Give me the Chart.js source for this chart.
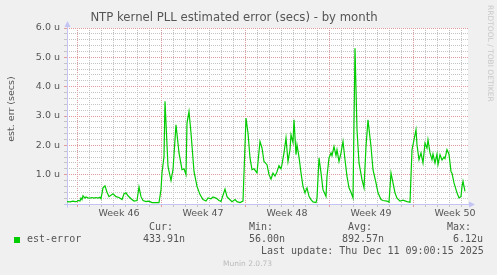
<!DOCTYPE html>
<html>
<head>
<meta charset="utf-8">
<script src="https://cdn.jsdelivr.net/npm/chart.js@4"></script>
<style>
html, body { margin: 0; padding: 0; background: #f0f0f0; }
#wrap { position: relative; width: 497px; height: 275px; overflow: hidden; }
canvas { position: absolute; left: 0; top: 0; }
.t { position: absolute; white-space: pre; font-family: "DejaVu Sans Mono", monospace; font-size: 10px; line-height: 12px; color: #555; }
.s { font-family: "DejaVu Sans", sans-serif; }
</style>
</head>
<body>
<div id="wrap">
  <canvas id="chart" width="497" height="275"></canvas>
  <div class="t s" id="ytitle" style="left:-25px;top:103px;width:72px;text-align:center;font-size:9.5px;transform:rotate(-90deg);">est. err (secs)</div>
  <div class="t s" id="rrd" style="left:484px;top:5px;font-size:7.5px;color:#c8c8c8;writing-mode:vertical-rl;">RRDTOOL / TOBI OETIKER</div>
  <div id="legend"></div>
  <div class="t s" id="munin" style="left:223px;top:258px;font-size:7.5px;color:#bbb;">Munin 2.0.73</div>
</div>
<script>
// hours since Monday 00:00 of week 46
const hours = [-20, -14, -8, -4, 0, 2, 6, 8, 10, 12, 16, 18, 22, 26, 30, 34, 38, 42, 46, 48,
  52, 56, 60, 64, 72, 78, 84, 90, 94, 98, 102, 108, 114, 120, 124, 128, 132, 138, 142, 146,
  150, 164, 168, 170, 174, 176, 182, 188, 192, 198, 204, 210, 214, 218, 220, 224, 228, 234, 240, 246,
  252, 258, 262, 268, 272, 278, 284, 288, 296, 300, 304, 310, 316, 320, 326, 332, 334, 338, 342, 346,
  350, 354, 360, 364, 366, 370, 374, 380, 384, 388, 392, 396, 400, 404, 408, 410, 414, 418, 422, 426,
  428, 432, 434, 438, 440, 444, 448, 452, 456, 460, 464, 468, 472, 478, 480, 484, 488, 492, 498, 500,
  504, 508, 510, 514, 518, 520, 524, 528, 532, 536, 540, 544, 548, 552, 556, 560, 564, 570, 574, 578,
  582, 588, 592, 598, 602, 608, 612, 620, 624, 628, 632, 636, 640, 646, 652, 660, 666, 670, 672, 678,
  680, 684, 688, 692, 696, 700, 702, 706, 710, 712, 716, 720, 722, 726, 730, 734, 736, 740, 744, 748,
  750, 754, 760, 764, 768, 770, 772, 776];

// est-error in microseconds
const estError = [0.08, 0.07, 0.10, 0.08, 0.09, 0.12, 0.10, 0.20, 0.15, 0.28, 0.20, 0.24, 0.21, 0.20, 0.22, 0.20, 0.22, 0.20, 0.23, 0.18,
  0.55, 0.62, 0.40, 0.25, 0.35, 0.25, 0.22, 0.15, 0.35, 0.38, 0.28, 0.18, 0.10, 0.12, 0.58, 0.25, 0.12, 0.08, 0.10, 0.08,
  0.05, 0.05, 0.49, 1.06, 1.62, 3.50, 1.28, 0.80, 1.17, 2.70, 1.74, 1.17, 1.20, 1.00, 2.76, 3.15, 2.42, 1.11, 0.60, 0.32,
  0.15, 0.10, 0.21, 0.18, 0.24, 0.20, 0.12, 0.09, 0.51, 0.25, 0.18, 0.08, 0.15, 0.08, 0.05, 0.10, 1.06, 2.93, 2.42, 1.57,
  1.17, 1.20, 1.06, 1.79, 2.13, 1.91, 1.45, 1.34, 1.00, 0.85, 1.05, 0.95, 1.10, 1.31, 1.20, 1.35, 1.74, 2.25, 1.45, 1.85,
  2.36, 2.10, 2.87, 1.68, 2.02, 1.60, 1.06, 0.60, 0.38, 0.55, 0.26, 0.15, 0.07, 0.05, 0.20, 1.57, 1.06, 0.49, 0.26, 0.94,
  1.57, 1.74, 1.65, 1.96, 1.65, 1.85, 1.45, 1.74, 2.13, 1.51, 0.94, 0.55, 0.40, 0.21, 5.31, 2.53, 1.40, 0.83, 0.55, 1.96,
  2.87, 1.96, 1.17, 0.72, 0.38, 0.15, 0.12, 0.10, 0.06, 1.06, 0.72, 0.38, 0.20, 0.10, 0.13, 0.08, 0.06, 1.85, 2.02, 2.53,
  2.02, 1.51, 1.74, 1.40, 2.08, 1.90, 2.19, 1.74, 1.51, 1.70, 1.40, 1.70, 1.34, 1.68, 1.50, 1.60, 1.55, 1.85, 1.70, 1.11,
  1.05, 0.72, 0.38, 0.21, 0.25, 0.60, 0.77, 0.43];

const weekLabels = ['Week 46', 'Week 47', 'Week 48', 'Week 49', 'Week 50'];
const statLabels = ['Cur:', 'Min:', 'Avg:', 'Max:'];
const statValues = ['433.91n', '56.00n', '892.57n', '6.12u'];
const seriesName = 'est-error';
const lastUpdate = 'Last update: Thu Dec 11 09:00:15 2025';

const GREEN = '#00cc00';
const MAJOR = '#e39a9a';
const MINOR = '#c4c4c4';
const AXIS = '#c4c4f4';

// legend block under the chart
const legend = document.getElementById('legend');
const addText = (txt, left, top) => {
    const d = document.createElement('div');
    d.className = 't';
    d.textContent = txt;
    d.style.left = left + 'px';
    d.style.top = top + 'px';
    legend.appendChild(d);
};
const sq = document.createElement('div');
sq.style.cssText = 'position:absolute;left:14px;top:237px;width:6px;height:6px;background:' + GREEN;
legend.appendChild(sq);
addText(seriesName, 27, 233);
const statLeft = [149, 249, 348, 447];
const valLeft = [143, 249, 342, 453];
statLabels.forEach((s, i) => addText(s, statLeft[i], 221));
statValues.forEach((s, i) => addText(s, valLeft[i], 233));
addText(lastUpdate, 261, 245);

const isWeekLine = v => v % 168 === 0;
const isLabelTick = v => (v - 84) % 168 === 0;

const frame = {
    id: 'frame',
    beforeDraw(chart) {
        const {ctx, chartArea: a} = chart;
        ctx.save();
        ctx.fillStyle = '#ffffff';
        ctx.fillRect(a.left, a.top, a.right - a.left, a.bottom - a.top);
        ctx.restore();
    },
    beforeDatasetsDraw(chart) {
        const {ctx, chartArea: a} = chart;
        const x0 = Math.round(a.left) + 0.5, y0 = Math.round(a.bottom) + 0.5;
        ctx.save();
        ctx.strokeStyle = AXIS;
        ctx.fillStyle = AXIS;
        ctx.lineWidth = 1;
        ctx.beginPath();
        ctx.moveTo(x0, y0 + 3);
        ctx.lineTo(x0, a.top - 3);
        ctx.moveTo(x0 - 3, y0);
        ctx.lineTo(a.right + 3, y0);
        ctx.stroke();
        ctx.beginPath();
        ctx.moveTo(x0 - 3, a.top - 1);
        ctx.lineTo(x0 + 3, a.top - 1);
        ctx.lineTo(x0, a.top - 7);
        ctx.closePath();
        ctx.fill();
        ctx.beginPath();
        ctx.moveTo(a.right + 1, y0 - 3);
        ctx.lineTo(a.right + 1, y0 + 3);
        ctx.lineTo(a.right + 7, y0);
        ctx.closePath();
        ctx.fill();
        ctx.restore();
    }
};

const xTicks = [];
for (let h = 0; h <= 782; h += 24) xTicks.push(h);
weekLabels.forEach((w, i) => xTicks.push(84 + 168 * i));
xTicks.sort((a, b) => a - b);
const yTicks = [];
for (let i = 0; i <= 30; i++) yTicks.push(i / 5);
const isMajorY = v => v > 0 && Math.abs(v - Math.round(v)) < 1e-6;

new Chart(document.getElementById('chart'), {
    type: 'line',
    data: {
        datasets: [{
            label: seriesName,
            data: hours.map((h, i) => ({x: h, y: estError[i]})),
            borderColor: GREEN,
            borderWidth: 1.2,
            pointRadius: 0,
            tension: 0,
            fill: false
        }]
    },
    options: {
        responsive: false,
        animation: false,
        layout: {padding: {left: 0, right: 29, top: 0, bottom: 51}},
        plugins: {
            legend: {display: false},
            tooltip: {enabled: false},
            title: {
                display: true,
                text: 'NTP kernel PLL estimated error (secs) - by month',
                color: '#555',
                font: {family: 'DejaVu Sans', size: 11.7, weight: 'normal', lineHeight: 1.2},
                padding: {top: 11, bottom: 2.96}
            }
        },
        scales: {
            x: {
                type: 'linear',
                min: -20,
                max: 782,
                afterBuildTicks: s => { s.ticks = xTicks.map(v => ({value: v})); },
                afterFit: s => { s.height = 20; },
                border: {display: false, dash: [1, 1]},
                grid: {
                    color: c => isWeekLine(c.tick.value) ? MAJOR : (isLabelTick(c.tick.value) ? 'rgba(0,0,0,0)' : MINOR),
                    tickColor: c => isWeekLine(c.tick.value) ? MAJOR : (isLabelTick(c.tick.value) ? 'rgba(0,0,0,0)' : MINOR),
                    tickLength: 3,
                    lineWidth: 1
                },
                ticks: {
                    autoSkip: false,
                    maxRotation: 0,
                    padding: 1,
                    color: '#555',
                    font: {family: 'DejaVu Sans', size: 9.5},
                    callback: v => isLabelTick(v) ? weekLabels[(v - 84) / 168] : ''
                }
            },
            y: {
                min: 0,
                max: 6,
                afterBuildTicks: s => { s.ticks = yTicks.map(v => ({value: v})); },
                afterFit: s => { s.width = 67; },
                border: {display: false, dash: [1, 1]},
                grid: {
                    color: c => c.tick.value === 0 ? 'rgba(0,0,0,0)' : (isMajorY(c.tick.value) ? MAJOR : MINOR),
                    tickColor: c => isMajorY(c.tick.value) ? MAJOR : MINOR,
                    tickLength: 3,
                    lineWidth: 1
                },
                ticks: {
                    autoSkip: false,
                    padding: 4,
                    color: '#555',
                    font: {family: 'DejaVu Sans', size: 9.5},
                    callback: v => isMajorY(v) ? v.toFixed(1) + ' u' : ''
                }
            }
        }
    },
    plugins: [frame]
});
</script>
</body>
</html>
